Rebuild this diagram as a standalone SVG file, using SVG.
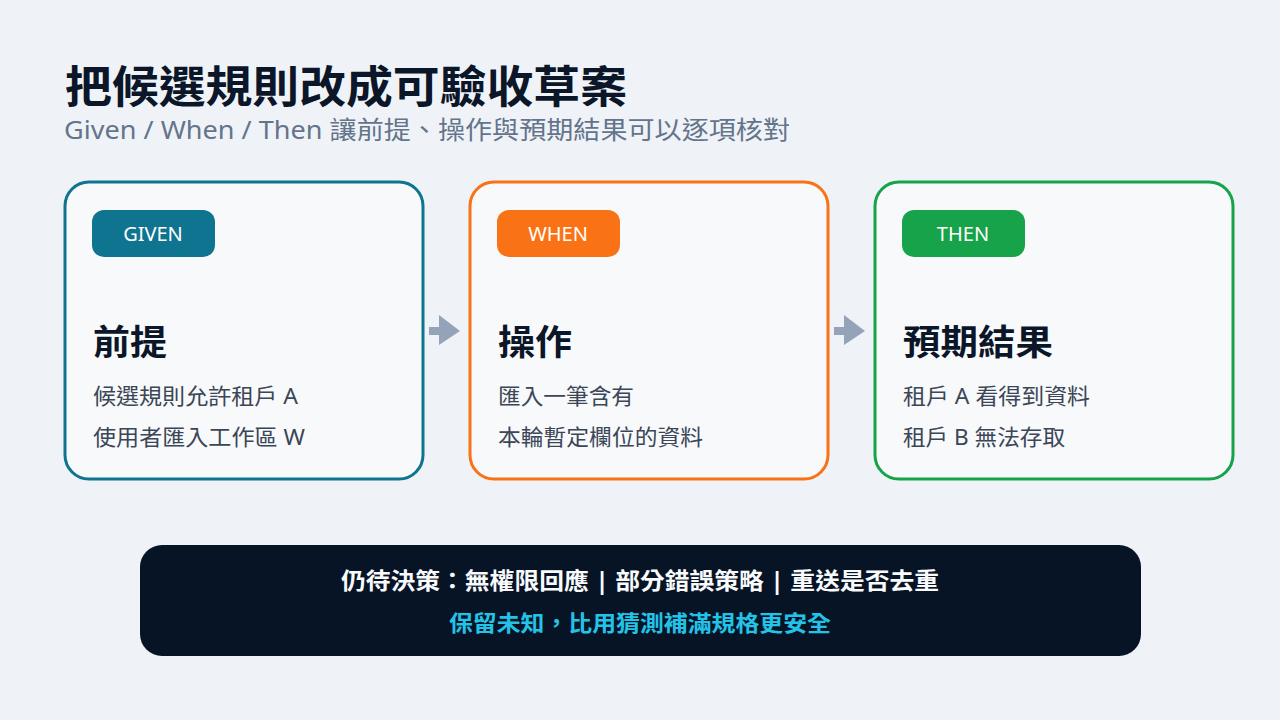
<svg xmlns="http://www.w3.org/2000/svg" width="1280" height="720" viewBox="0 0 1280 720">
<style>
text{font-family:"Noto Sans","Noto Sans CJK TC",sans-serif}
.card{fill:#f7f9fb;stroke-width:3}
.tag{font-size:20px;fill:#fff;text-anchor:middle}
.h{font-size:35px;font-weight:bold;fill:#0b1628}
.b{font-size:22px;fill:#3b4656}
.arr{fill:#94a3b8}
</style>
<rect width="1280" height="720" fill="#eff3f8"/>
<text x="65" y="103" font-size="44" font-weight="bold" fill="#0b1628" textLength="562" lengthAdjust="spacingAndGlyphs">把候選規則改成可驗收草案</text>
<text x="64" y="139" font-size="25" fill="#64748b" textLength="726" lengthAdjust="spacingAndGlyphs">Given / When / Then 讓前提、操作與預期結果可以逐項核對</text>
<g id="given">
<rect class="card" x="65" y="182" width="358" height="297" rx="24" stroke="#0e7490"/>
<rect x="92" y="210" width="123" height="47" rx="12" fill="#0e7490"/>
<text class="tag" x="153" y="241">GIVEN</text>
<text class="h" x="93" y="355" textLength="74" lengthAdjust="spacingAndGlyphs">前提</text>
<text class="b" x="93" y="404" textLength="205" lengthAdjust="spacingAndGlyphs">候選規則允許租戶 A</text>
<text class="b" x="93" y="445" textLength="212" lengthAdjust="spacingAndGlyphs">使用者匯入工作區 W</text>
</g>
<g id="when">
<rect class="card" x="470" y="182" width="358" height="297" rx="24" stroke="#f97316"/>
<rect x="497" y="210" width="123" height="47" rx="12" fill="#f97316"/>
<text class="tag" x="558" y="241">WHEN</text>
<text class="h" x="498" y="355" textLength="74" lengthAdjust="spacingAndGlyphs">操作</text>
<text class="b" x="498" y="404" textLength="136" lengthAdjust="spacingAndGlyphs">匯入一筆含有</text>
<text class="b" x="498" y="445" textLength="205" lengthAdjust="spacingAndGlyphs">本輪暫定欄位的資料</text>
</g>
<g id="then">
<rect class="card" x="875" y="182" width="358" height="297" rx="24" stroke="#16a34a"/>
<rect x="902" y="210" width="123" height="47" rx="12" fill="#16a34a"/>
<text class="tag" x="963" y="241">THEN</text>
<text class="h" x="903" y="355" textLength="150" lengthAdjust="spacingAndGlyphs">預期結果</text>
<text class="b" x="903" y="404" textLength="187" lengthAdjust="spacingAndGlyphs">租戶 A 看得到資料</text>
<text class="b" x="903" y="445" textLength="162" lengthAdjust="spacingAndGlyphs">租戶 B 無法存取</text>
</g>
<g id="connectors">
<path class="arr" d="M429 327H439V315L460 331L439 345V335H429Z"/>
<path class="arr" d="M834 327H844V315L865 331L844 345V335H834Z"/>
</g>
<g id="note">
<rect x="140" y="545" width="1001" height="111" rx="22" fill="#071426"/>
<text x="341" y="589" font-size="23" font-weight="bold" fill="#f8fafc" textLength="598" lengthAdjust="spacingAndGlyphs">仍待決策：無權限回應 | 部分錯誤策略 | 重送是否去重</text>
<text x="449" y="631" font-size="22" font-weight="bold" fill="#22c3e6" textLength="382" lengthAdjust="spacingAndGlyphs">保留未知，比用猜測補滿規格更安全</text>
</g>
</svg>
